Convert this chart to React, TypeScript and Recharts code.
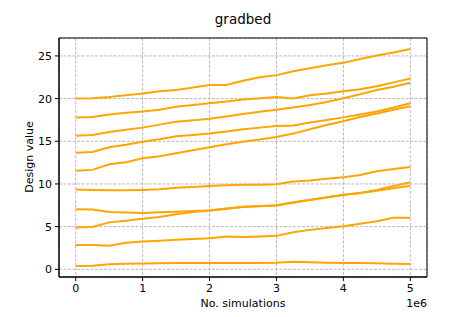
import { CartesianGrid, Line, LineChart, ReferenceArea, XAxis, YAxis } from "recharts"

const steps = [0, 0.25, 0.5, 0.75, 1, 1.25, 1.5, 1.75, 2, 2.25, 2.5, 2.75, 3, 3.25, 3.5, 3.75, 4, 4.25, 4.5, 4.75, 5]

const run0 = [20.0, 20.05, 20.2, 20.4, 20.6, 20.85, 21.0, 21.3, 21.6, 21.6, 22.1, 22.5, 22.75, 23.2, 23.55, 23.9, 24.2, 24.65, 25.05, 25.4, 25.8]
const run1 = [17.8, 17.85, 18.15, 18.35, 18.5, 18.7, 19.05, 19.25, 19.45, 19.65, 19.9, 20.05, 20.2, 20.0, 20.4, 20.6, 20.85, 21.1, 21.45, 21.9, 22.35]
const run2 = [15.65, 15.75, 16.1, 16.35, 16.6, 16.95, 17.3, 17.45, 17.65, 17.9, 18.2, 18.45, 18.7, 18.95, 19.25, 19.6, 20.05, 20.5, 21.0, 21.4, 21.85]
const run3 = [13.65, 13.75, 14.3, 14.6, 14.95, 15.25, 15.6, 15.75, 15.9, 16.15, 16.4, 16.6, 16.8, 16.85, 17.2, 17.5, 17.8, 18.15, 18.5, 18.95, 19.45]
const run4 = [11.55, 11.65, 12.3, 12.55, 13.0, 13.25, 13.6, 13.95, 14.3, 14.65, 14.95, 15.2, 15.5, 15.9, 16.4, 16.9, 17.35, 17.85, 18.25, 18.7, 19.1]
const run5 = [9.35, 9.3, 9.25, 9.25, 9.3, 9.38, 9.55, 9.65, 9.75, 9.85, 9.9, 9.92, 9.97, 10.3, 10.4, 10.6, 10.8, 11.05, 11.5, 11.75, 12.0]
const run6 = [7.05, 7.0, 6.72, 6.65, 6.6, 6.68, 6.75, 6.82, 6.9, 7.12, 7.32, 7.4, 7.5, 7.85, 8.15, 8.45, 8.75, 8.95, 9.3, 9.75, 10.2]
const run7 = [4.9, 4.95, 5.5, 5.7, 5.92, 6.12, 6.45, 6.72, 6.88, 7.1, 7.3, 7.42, 7.48, 7.8, 8.12, 8.4, 8.7, 8.95, 9.2, 9.5, 9.78]
const run8 = [2.85, 2.85, 2.75, 3.1, 3.25, 3.35, 3.45, 3.55, 3.65, 3.85, 3.8, 3.85, 3.92, 4.35, 4.62, 4.85, 5.05, 5.35, 5.62, 6.05, 6.05]
const run9 = [0.4, 0.42, 0.6, 0.65, 0.67, 0.7, 0.73, 0.74, 0.75, 0.75, 0.75, 0.75, 0.76, 0.88, 0.82, 0.78, 0.75, 0.73, 0.7, 0.66, 0.62]

const runs = [run0, run1, run2, run3, run4, run5, run6, run7, run8, run9]

const xTicks = [0, 1e6, 2e6, 3e6, 4e6, 5e6]
const yTicks = [0, 5, 10, 15, 20, 25]
const xDomain = [-0.25e6, 5.25e6]
const yDomain = [-0.9, 27.1]

const data = steps.map((s, i) => {
  const row: Record<string, number> = { n: s * 1e6 }
  runs.forEach((r, k) => {
    row["r" + k] = r[i]
  })
  return row
})

const font = "DejaVu Sans, sans-serif"
const tickStyle = { fill: "#000", fontSize: 11, fontFamily: font }

export default function App() {
  return (
    <div style={{ position: "absolute", left: 0, top: 0, width: 475, height: 317, background: "#fff" }}>
      <LineChart width={475} height={317} data={data} margin={{ top: 38, right: 48, bottom: 0, left: 0 }}>
        <CartesianGrid stroke="#b0b0b0" strokeWidth={0.9} strokeDasharray="3 1.5" />
        <XAxis
          dataKey="n"
          type="number"
          domain={xDomain}
          ticks={xTicks}
          tickFormatter={(v) => String(v / 1e6)}
          height={40}
          stroke="#000"
          tick={tickStyle}
          tickSize={4}
          tickMargin={3}
          allowDataOverflow
        />
        <YAxis
          type="number"
          domain={yDomain}
          ticks={yTicks}
          width={59}
          stroke="#000"
          tick={tickStyle}
          tickSize={4}
          tickMargin={3}
          allowDataOverflow
          label={() => (
            <text x={33} y={157} transform="rotate(-90 33 157)" textAnchor="middle" fontSize={11} fontFamily={font} fill="#000">
              Design value
            </text>
          )}
        />
        {runs.map((_, k) => (
          <Line
            key={k}
            dataKey={"r" + k}
            stroke="#ffa500"
            strokeWidth={2}
            dot={false}
            type="linear"
            isAnimationActive={false}
          />
        ))}
        <ReferenceArea
          x1={xDomain[0]}
          x2={xDomain[1]}
          y1={yDomain[0]}
          y2={yDomain[1]}
          fill="none"
          stroke="#000"
          strokeWidth={1}
          ifOverflow="visible"
        />
        <text x={243} y={24} textAnchor="middle" fontSize={13.5} fontFamily={font} fill="#000">
          gradbed
        </text>
        <text x={243} y={307} textAnchor="middle" fontSize={11} fontFamily={font} fill="#000">
          No. simulations
        </text>
        <text x={427} y={307} textAnchor="end" fontSize={11} fontFamily={font} fill="#000">
          1e6
        </text>
      </LineChart>
    </div>
  )
}
